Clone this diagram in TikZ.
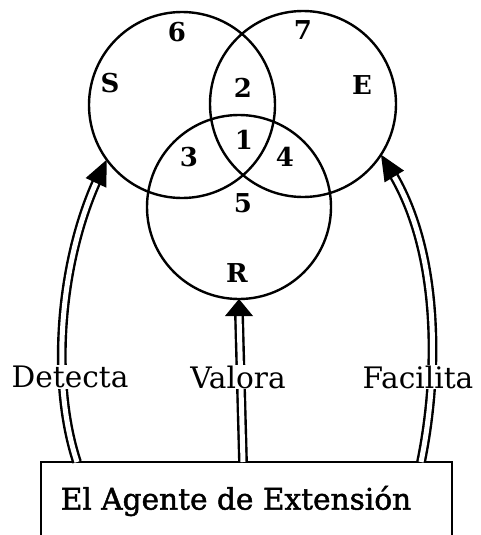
\documentclass[tikz,border=0pt]{standalone}
\usepackage{fontspec}
\setmainfont{DejaVu Serif}
\newfontfamily\heavyfont[FakeBold=1.6]{DejaVu Serif}
\usetikzlibrary{calc}
\begin{document}
\begin{tikzpicture}[x=1pt,y=-1pt,
  venn/.style={circle,draw,line width=2.4pt,minimum size=186pt,inner sep=0pt,outer sep=0pt},
  num/.style={font=\bfseries\fontsize{26}{30}\selectfont,inner sep=0pt},
  lbl/.style={font=\fontsize{29.6}{36}\selectfont,fill=white,inner sep=1pt},
  dbl/.style={double,double distance=5pt,line width=2.4pt},
  boxline/.style={line width=2.2pt}]
\useasboundingbox (0,0) rectangle (481,535);
% circles
\node[venn] (S) at (182,105) {};
\node[venn] (E) at (303,104) {};
\node[venn,minimum size=184pt] (R) at (239,207) {};
% region labels
\node[num] (n6) at (177,32) {6};
\node[num] (n7) at (303,30) {7};
\node[num] (lS) at (110,83) {S};
\node[num] (lE) at (362,85) {E};
\node[num] (n2) at (243,88) {2};
\node[num] (n1) at (244,140) {1};
\node[num] (n3) at (189,157) {3};
\node[num] (n4) at (285,157) {4};
\node[num] (n5) at (243,203) {5};
\node[num] (lR) at (237,273) {R};
% box
\draw[boxline] (41,535) -- (41,462) -- (452,462) -- (452,535);
\node[font=\heavyfont\fontsize{29.6}{36}\selectfont,inner sep=0pt] (agent) at (236,501) {El Agente de Extensión};
\coordinate (bD) at (77,462);
\coordinate (bV) at (243,462);
\coordinate (bF) at (421,462);
% connectors
\draw[dbl] (bV) -- ($(R.south)+(0,16)$);
\fill (R.south) -- ++(-14,17) -- ++(28,0) -- cycle;
\draw[dbl,shorten >=20pt] (bD) .. controls (50,380) and (60,260) .. (S.216.6);
\fill (S.216.6) -- ($(S.216.6)!28pt!24:(60,260)$) -- ($(S.216.6)!28pt!-24:(60,260)$) -- cycle;
\draw[dbl,shorten >=20pt] (bF) .. controls (438,380) and (442,255) .. (E.327.5);
\fill (E.327.5) -- ($(E.327.5)!28pt!24:(442,255)$) -- ($(E.327.5)!28pt!-24:(442,255)$) -- cycle;
% labels
\node[lbl] (det) at (70,377) {Detecta};
\node[lbl] (val) at (238,377) {Valora};
\node[lbl] (fac) at (418,377) {Facilita};
\end{tikzpicture}
\end{document}
